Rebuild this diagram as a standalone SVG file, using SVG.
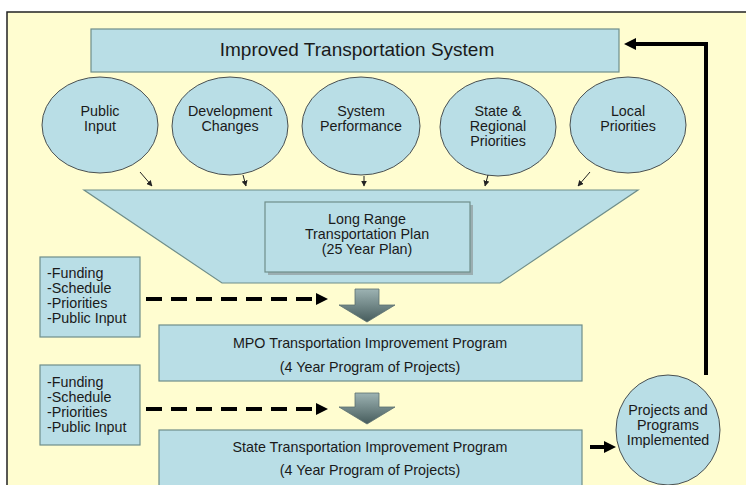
<svg xmlns="http://www.w3.org/2000/svg" width="746" height="485" viewBox="0 0 746 485">
<defs>
<style>
.bg{fill:#FFFDD0;}
.box{fill:#B9DEE6;stroke:#6F8E8A;stroke-width:1.2;}
.circ{fill:#B9DEE6;stroke:#4A5050;stroke-width:1;}
.t{font-family:"Liberation Sans",Arial,sans-serif;font-size:14.3px;fill:#1a1a1a;text-anchor:middle;}
.tl{font-family:"Liberation Sans",Arial,sans-serif;font-size:14.3px;fill:#1a1a1a;}
.thin{stroke:#222;stroke-width:1;fill:none;marker-end:url(#sm);}
.dash{stroke:#000;stroke-width:4;stroke-dasharray:16 9;fill:none;}
.blk{fill:url(#ga);stroke:#5b6f6f;stroke-width:0.8;}
</style>
<marker id="sm" viewBox="0 0 10 10" refX="9" refY="5" markerWidth="6" markerHeight="6" orient="auto" markerUnits="userSpaceOnUse">
<path d="M0,0 L10,5 L0,10 z" fill="#222"/>
</marker>
<linearGradient id="ga" x1="0" y1="0" x2="0" y2="1">
<stop offset="0" stop-color="#9DB3B3"/>
<stop offset="1" stop-color="#465C5C"/>
</linearGradient>
</defs>
<rect x="0" y="0" width="746" height="485" fill="#ffffff"/>
<rect class="bg" x="7" y="12" width="740" height="480"/>
<path d="M7,485 L7,12 L746,12" fill="none" stroke="#222" stroke-width="1.5"/>

<g id="top-box">
<rect class="box" x="91" y="29" width="528" height="43"/>
<text class="t" x="357" y="56" style="font-size:19px">Improved Transportation System</text>
</g>

<g id="public-input">
<ellipse class="circ" cx="100" cy="125" rx="58" ry="48"/>
<text class="t" x="100" y="116">Public</text>
<text class="t" x="100" y="131">Input</text>
</g>
<g id="development-changes">
<ellipse class="circ" cx="230" cy="126" rx="58" ry="49"/>
<text class="t" x="230" y="116">Development</text>
<text class="t" x="230" y="131">Changes</text>
</g>
<g id="system-performance">
<ellipse class="circ" cx="361" cy="126" rx="59" ry="49"/>
<text class="t" x="361" y="116">System</text>
<text class="t" x="361" y="131">Performance</text>
</g>
<g id="state-regional">
<ellipse class="circ" cx="498" cy="127" rx="58" ry="49"/>
<text class="t" x="498" y="116">State &amp;</text>
<text class="t" x="498" y="131">Regional</text>
<text class="t" x="498" y="146">Priorities</text>
</g>
<g id="local-priorities">
<ellipse class="circ" cx="628" cy="125" rx="58" ry="48"/>
<text class="t" x="628" y="116">Local</text>
<text class="t" x="628" y="131">Priorities</text>
</g>

<g id="lrtp-funnel">
<polygon class="box" points="84,190 638,190 500,283 222,283"/>
<rect x="268" y="205" width="205" height="70" fill="#8E9A9A" opacity="0.7"/>
<rect class="box" x="265" y="202" width="205" height="70"/>
<text class="t" x="367" y="224">Long Range</text>
<text class="t" x="367" y="239">Transportation Plan</text>
<text class="t" x="367" y="254">(25 Year Plan)</text>
</g>

<g id="factors-1">
<rect class="box" x="40" y="257" width="100" height="80"/>
<text class="tl" x="47" y="278">-Funding</text>
<text class="tl" x="47" y="293">-Schedule</text>
<text class="tl" x="47" y="308">-Priorities</text>
<text class="tl" x="47" y="323">-Public Input</text>
</g>

<g id="mpo-tip">
<rect class="box" x="159" y="325" width="423" height="56"/>
<text class="t" x="370" y="348">MPO Transportation Improvement Program</text>
<text class="t" x="370" y="372">(4 Year Program of Projects)</text>
</g>

<g id="factors-2">
<rect class="box" x="40" y="365" width="100" height="80"/>
<text class="tl" x="47" y="387">-Funding</text>
<text class="tl" x="47" y="402">-Schedule</text>
<text class="tl" x="47" y="417">-Priorities</text>
<text class="tl" x="47" y="432">-Public Input</text>
</g>

<g id="state-tip">
<rect class="box" x="159" y="430" width="423" height="56"/>
<text class="t" x="370" y="452">State Transportation Improvement Program</text>
<text class="t" x="370" y="475">(4 Year Program of Projects)</text>
</g>

<g id="projects-implemented">
<ellipse class="circ" cx="668" cy="430" rx="52" ry="55"/>
<text class="t" x="668" y="415">Projects and</text>
<text class="t" x="668" y="430">Programs</text>
<text class="t" x="668" y="445">Implemented</text>
</g>

<g id="connectors">
<line class="thin" x1="140" y1="172" x2="152" y2="186"/>
<line class="thin" x1="243" y1="175" x2="246" y2="186"/>
<line class="thin" x1="364" y1="176" x2="364" y2="186"/>
<line class="thin" x1="488" y1="175" x2="485" y2="186"/>
<line class="thin" x1="590" y1="172" x2="578" y2="186"/>

<line class="dash" x1="146" y1="299" x2="316" y2="299"/>
<polygon points="316,293 328,299 316,305" fill="#000"/>
<line class="dash" x1="146" y1="409" x2="316" y2="409"/>
<polygon points="316,403 328,409 316,415" fill="#000"/>

<polygon class="blk" points="355,289 379,289 379,305 395,305 367,322 339,305 355,305"/>
<polygon class="blk" points="355,393 379,393 379,407 395,407 367,424 339,407 355,407"/>

<line x1="590" y1="447" x2="606" y2="447" stroke="#000" stroke-width="4"/>
<polygon points="604,441 616,447 604,453" fill="#000"/>

<polyline points="706,375 706,44 634,44" fill="none" stroke="#000" stroke-width="4"/>
<polygon points="636,38 624,44 636,50" fill="#000"/>
</g>
</svg>
